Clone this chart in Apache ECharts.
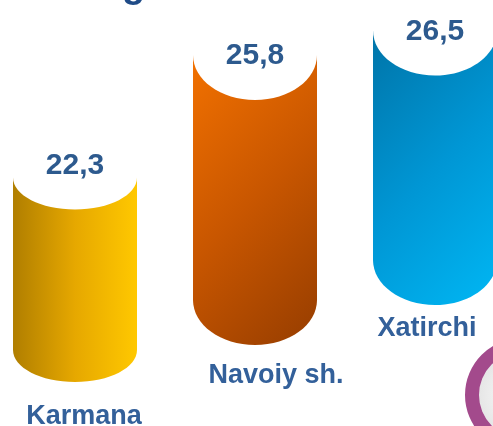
<!DOCTYPE html>
<html><head><meta charset="utf-8">
<script src="https://cdn.jsdelivr.net/npm/echarts@6/dist/echarts.min.js"></script>
<style>html,body{margin:0;padding:0;background:#fff}#c{width:493px;height:426px}</style>
</head><body><div id="c"></div>
<script>
// ---- data ----
const categories = ['Karmana', 'Navoiy sh.', 'Xatirchi'];
const values = [22.3, 25.8, 26.5];
const valueLabels = ['22,3', '25,8', '26,5'];

// ---- layout / style (decorative stagger of the infographic) ----
const barFloor = [17.37, 18.8, 19.94];   // axis units where each cylinder's side ends
const capRy = [32, 45, 45];
const catDx = [9, 21, -8];
const catDy = [34, 31, 23];
const gradDefs = [
  {dir: 'h', stops: ['#B07E00', '#E6A800', '#FFC800']},
  {dir: 'd', stops: ['#F27100', '#C85600', '#963D00']},
  {dir: 'd', stops: ['#0074A8', '#0096D4', '#00B7F4']}
];
const RX = 62;

function makeGrad(i, x0, y0, x1, y1) {
  const g = gradDefs[i];
  const n = g.stops.length;
  const d = ((x1 - x0) + (y1 - y0)) / 2;
  return {
    type: 'linear', global: true,
    x: x0, y: y0,
    x2: g.dir === 'h' ? x1 : x0 + d,
    y2: g.dir === 'h' ? y0 : y0 + d,
    colorStops: g.stops.map((c, k) => ({offset: k / (n - 1), color: c}))
  };
}

function renderItem(params, api) {
  const i = params.dataIndex;
  const top = api.coord([api.value(0), api.value(1)]);
  const bot = api.coord([api.value(0), barFloor[i]]);
  const cx = top[0], ry = capRy[i];
  const fill = makeGrad(i, cx - RX, top[1], cx + RX, bot[1] + ry);
  return {
    type: 'group',
    children: [
      {type: 'rect', shape: {x: cx - RX, y: top[1], width: 2 * RX, height: bot[1] - top[1]}, style: {fill: fill}},
      {type: 'ellipse', shape: {cx: cx, cy: bot[1], rx: RX, ry: ry}, style: {fill: fill}},
      {type: 'ellipse', shape: {cx: cx, cy: top[1], rx: RX, ry: ry}, style: {fill: '#ffffff'}},
      {type: 'text', style: {text: valueLabels[i], x: cx, y: top[1] + ry - 44, align: 'center', verticalAlign: 'middle',
        fontFamily: '"Liberation Sans", Arial, sans-serif', fontWeight: 'bold', fontSize: 30, fill: '#2D5A8E'}},
      {type: 'text', style: {text: categories[i], x: cx + catDx[i], y: bot[1] + ry + catDy[i], align: 'center', verticalAlign: 'middle',
        fontFamily: '"Liberation Sans", Arial, sans-serif', fontWeight: 'bold', fontSize: 27, fill: '#33609A'}}
    ]
  };
}

const chart = echarts.init(document.getElementById('c'), null, {renderer: 'canvas'});
chart.setOption({
  animation: false,
  backgroundColor: '#ffffff',
  grid: {left: 0, right: 0, top: 0, bottom: 0},
  xAxis: {type: 'value', min: -0.4167, max: 2.3222, show: false},
  yAxis: {type: 'value', min: 15.2, max: 27.3714, show: false},
  graphic: [
    {type: 'text', left: 122, top: -32, style: {text: 'g', fontFamily: '"Liberation Sans", Arial, sans-serif', fontWeight: 'bold', fontSize: 38, fill: '#1F4B87'}},
    {type: 'circle', shape: {cx: 522, cy: 395, r: 43}, style: {fill: {type: 'radial', x: 0.5, y: 0.5, r: 0.5, colorStops: [{offset: 0, color: '#ffffff'}, {offset: 1, color: '#E6E6E6'}]}}},
    {type: 'ring', shape: {cx: 522, cy: 395, r: 57, r0: 43}, style: {fill: '#A34A8C'}}
  ],
  series: [{
    type: 'custom',
    renderItem: renderItem,
    data: values.map((v, i) => [i, v]),
    clip: false
  }]
});
</script>
</body></html>
